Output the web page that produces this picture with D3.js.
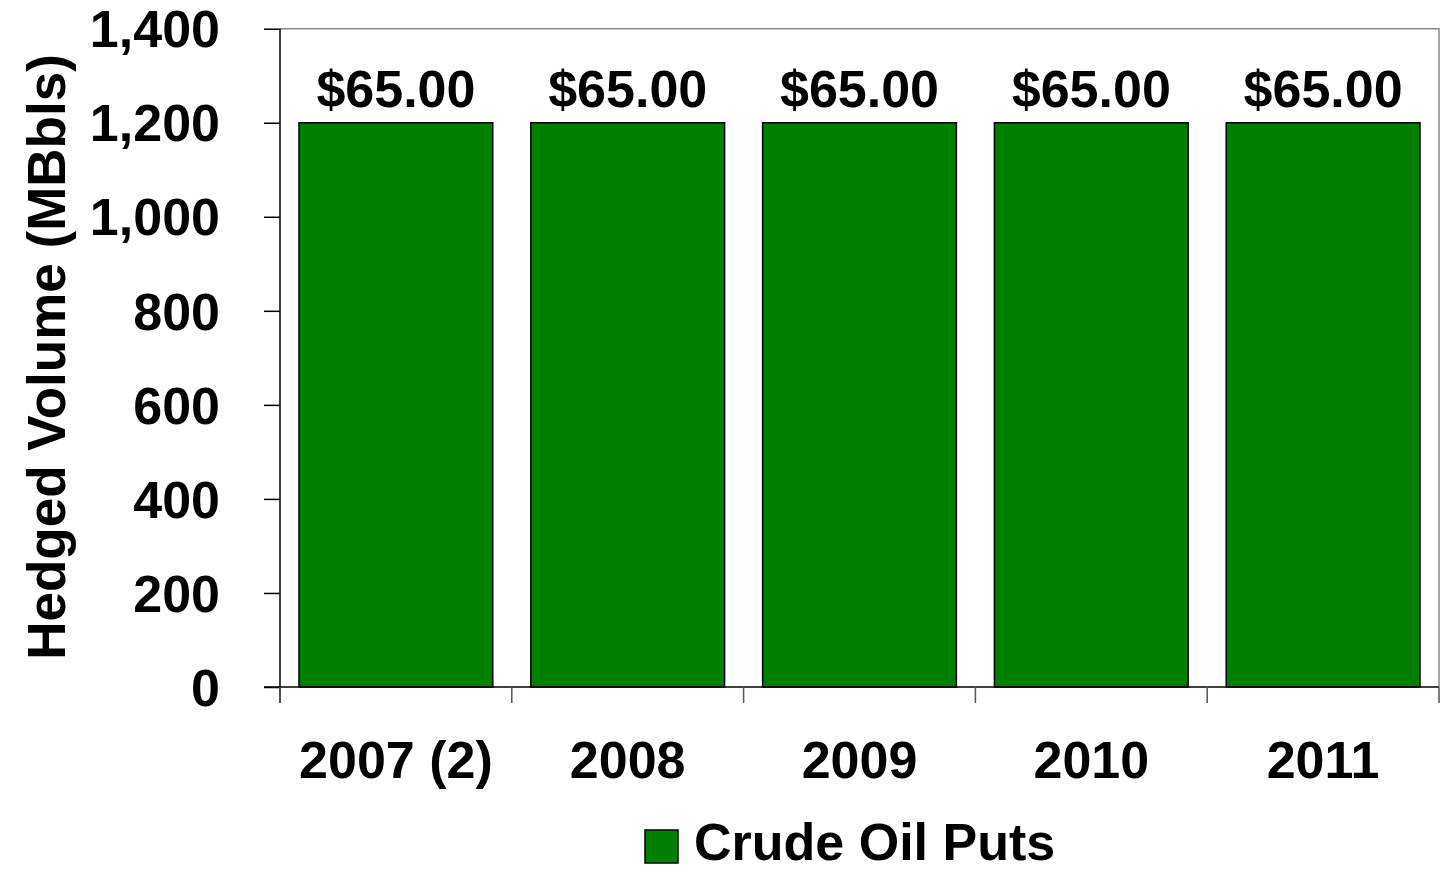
<!DOCTYPE html>
<html><head><meta charset="utf-8">
<script src="https://cdn.jsdelivr.net/npm/d3@7"></script>
<style>
body{margin:0;background:#fff;}
text{font-family:Arial,"Liberation Sans",sans-serif;font-weight:bold;fill:#000;}
</style></head>
<body><svg id="c" width="1441" height="872"></svg>
<script>
const categories = ["2007 (2)", "2008", "2009", "2010", "2011"];
const volumes = [1200, 1200, 1200, 1200, 1200];
const priceLabels = ["$65.00", "$65.00", "$65.00", "$65.00", "$65.00"];
const yTicks = [0, 200, 400, 600, 800, 1000, 1200, 1400];
const seriesName = "Crude Oil Puts";

const svg = d3.select("#c");
const L = 280, R = 1439, T = 28.7, B = 687;
const x = d3.scaleBand().domain(categories).range([L, R]).paddingInner(0.164).paddingOuter(0.082);
const y = d3.scaleLinear().domain([0, 1400]).range([B, T]);
const green = "#008000";
const fs = 52;

// plot frame (top/right grey)
svg.append("path").attr("d", `M${L},${T}H${R}V${B}`).attr("fill","none").attr("stroke","#888").attr("stroke-width",1.5);

// bars
svg.selectAll("rect.bar").data(categories).enter().append("rect")
  .attr("x", d => x(d)).attr("width", x.bandwidth())
  .attr("y", (d,i) => y(volumes[i])).attr("height", (d,i) => B - y(volumes[i]))
  .attr("fill", green).attr("stroke", "#000").attr("stroke-width", 1.5);

// value labels
svg.selectAll("text.val").data(categories).enter().append("text")
  .attr("x", d => x(d) + x.bandwidth()/2)
  .attr("y", (d,i) => y(volumes[i]) - 16)
  .attr("text-anchor","middle").attr("font-size", fs)
  .text((d,i) => priceLabels[i]);

// y axis
const yAxis = d3.axisLeft(y).tickValues(yTicks).tickSize(16).tickPadding(44).tickFormat(d3.format(","));
const ya = svg.append("g").attr("transform", `translate(${L},0)`).call(yAxis);
ya.select(".domain").attr("stroke","#000").attr("stroke-width",1.5).attr("d", `M0,${T}V${B+16}`);
ya.selectAll(".tick line").attr("stroke","#000").attr("stroke-width",1.5);
ya.selectAll(".tick text").attr("font-size", fs).attr("fill","#000").attr("dy","0.35em")
  .style("font-family","Arial,'Liberation Sans',sans-serif").style("font-weight","bold");

// x axis
const xa = svg.append("g").attr("transform", `translate(0,${B})`).call(d3.axisBottom(x).tickSize(0).tickPadding(54));
xa.select(".domain").attr("stroke","#000").attr("stroke-width",1.5).attr("d", `M${L-16},0H${R}`);
xa.selectAll(".tick text").attr("font-size", fs).attr("fill","#000").attr("dy","0.71em")
  .style("font-family","Arial,'Liberation Sans',sans-serif").style("font-weight","bold");
// category boundary ticks
const step = x.step();
const bounds = d3.range(categories.length + 1).map(i => i === 0 ? L : (i === categories.length ? R : x(categories[i]) - x.paddingInner()*step/2));
svg.selectAll("line.bt").data(bounds).enter().append("line")
  .attr("x1", d => d).attr("x2", d => d).attr("y1", B).attr("y2", B + 16)
  .attr("stroke", "#555").attr("stroke-width", 1.5);

// y title
svg.append("text").attr("transform", "translate(65,357) rotate(-90)")
  .attr("text-anchor","middle").attr("font-size", 53).text("Hedged Volume (MBbls)");

// legend
svg.append("rect").attr("x",645).attr("y",830).attr("width",33).attr("height",33)
  .attr("fill", green).attr("stroke","#000").attr("stroke-width",1.5);
svg.append("text").attr("x",694).attr("y",860).attr("font-size",fs).text(seriesName);
</script></body></html>
